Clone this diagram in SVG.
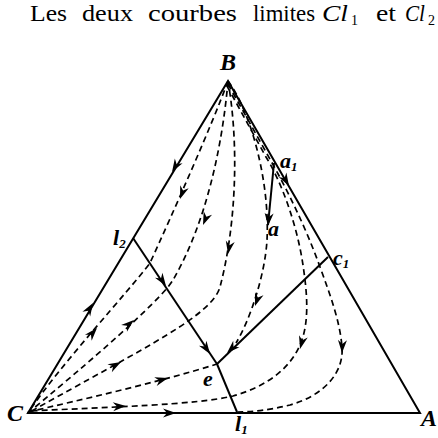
<svg xmlns="http://www.w3.org/2000/svg" xmlns:xlink="http://www.w3.org/1999/xlink" width="438" height="438" viewBox="0 0 438 438">
<style>
.solid{fill:none;stroke:#000;stroke-width:2;stroke-linejoin:miter}
.dash{fill:none;stroke:#000;stroke-width:1.7;stroke-dasharray:6 4}
.serif{font-family:Liberation Serif, Times New Roman, Tinos, DejaVu Serif, serif}
.t{font-size:24px;fill:#000}
</style>
<defs>
<path id="ah" d="M0,0 L-13,-4.5 L-9,0 L-13,4.5 Z" fill="#000"/>
</defs>
<rect width="438" height="438" fill="#fff"/>
<g id="title" class="serif">
<text class="t" x="30" y="21" textLength="37" lengthAdjust="spacingAndGlyphs">Les</text>
<text class="t" x="82" y="21" textLength="51" lengthAdjust="spacingAndGlyphs">deux</text>
<text class="t" x="148" y="21" textLength="89" lengthAdjust="spacingAndGlyphs">courbes</text>
<text class="t" x="253" y="21" textLength="62" lengthAdjust="spacingAndGlyphs">limites</text>
<text class="t" x="322" y="21" font-style="italic" textLength="26" lengthAdjust="spacingAndGlyphs">Cl</text>
<text x="351" y="25" font-size="14" fill="#000">1</text>
<text class="t" x="376" y="21" textLength="20" lengthAdjust="spacingAndGlyphs">et</text>
<text class="t" x="405" y="21" font-style="italic" textLength="20" lengthAdjust="spacingAndGlyphs">Cl</text>
<text x="428" y="25" font-size="14" fill="#000">2</text>
</g>
<g id="triangle">
<path class="solid" d="M228,81 L420,413 L28,413 Z"/>
</g>
<g id="connectors">
<path id="limit2" class="solid" d="M133,238 L217,364"/>
<path id="limit1" class="solid" d="M217,364 L237,412"/>
<path id="limit-e-c1" class="solid" d="M217,364 L328,257"/>
<path id="a1-a" class="solid" d="M274,163 L268,225"/>
<path id="L1" class="dash" d="M228,81 C212,125 172,215 150,263 C130,290 60,365 28,413"/>
<path id="L2" class="dash" d="M228,81 C222,150 205,225 173,280 C163,297 110,345 28,413"/>
<path id="L3" class="dash" d="M228,81 C240,150 235,230 220,287 C212,315 150,345 28,413"/>
<path id="C4" class="dash" d="M28,412 C80,400 160,382 217,364"/>
<path id="R1" class="dash" d="M228,81 C250,110 270,180 267,240 C265,275 250,320 236,343"/>
<path id="R2" class="dash" d="M227,86 L266,157 C282,183 297,225 303,265 C307,292 310,322 300,345 C290,368 268,386 233,396 C195,405 110,407 30,411"/>
<path id="R3" class="dash" d="M228,84 L271,161 C285,186 305,225 320,267 C331,297 340,322 342,347 C344,372 325,395 290,405 C270,410 252,412 237,412"/>
<g id="arrows">
<use xlink:href="#ah" transform="translate(172,172) rotate(121)"/>
<use xlink:href="#ah" transform="translate(93,303) rotate(-59)"/>
<use xlink:href="#ah" transform="translate(176,413)"/>
<use xlink:href="#ah" transform="translate(289,186) rotate(60)"/>
<use xlink:href="#ah" transform="translate(166,286) rotate(56)"/>
<use xlink:href="#ah" transform="translate(210,354) rotate(56)"/>
<use xlink:href="#ah" transform="translate(227,353) rotate(136)"/>
<use xlink:href="#ah" transform="translate(268,226) rotate(95)"/>
<use xlink:href="#ah" transform="translate(180,199) rotate(110)"/>
<use xlink:href="#ah" transform="translate(203,225) rotate(112)"/>
<use xlink:href="#ah" transform="translate(228,254) rotate(100)"/>
<use xlink:href="#ah" transform="translate(255,306) rotate(109)"/>
<use xlink:href="#ah" transform="translate(300,349) rotate(105)"/>
<use xlink:href="#ah" transform="translate(342,353) rotate(92)"/>
<use xlink:href="#ah" transform="translate(97,328) rotate(-48)"/>
<use xlink:href="#ah" transform="translate(134,320) rotate(-40)"/>
<use xlink:href="#ah" transform="translate(121,362) rotate(-29)"/>
<use xlink:href="#ah" transform="translate(168,378) rotate(-16)"/>
<use xlink:href="#ah" transform="translate(126,406) rotate(-3)"/>
</g>
</g>
<g class="serif" font-weight="bold" font-style="italic" fill="#000">
<g id="node-B"><text x="228" y="70" font-size="24" text-anchor="middle">B</text></g>
<g id="node-C"><text x="15" y="421" font-size="24" text-anchor="middle">C</text></g>
<g id="node-A"><text x="429" y="426" font-size="24" text-anchor="middle">A</text></g>
<g id="node-l2"><text x="113" y="245" font-size="22">l<tspan font-size="13" dy="3">2</tspan></text></g>
<g id="node-l1"><text x="235" y="431" font-size="22">l<tspan font-size="13" dy="3">1</tspan></text></g>
<g id="node-a1"><text x="280" y="168" font-size="22">a<tspan font-size="13" dy="3">1</tspan></text></g>
<g id="node-a"><text x="268" y="236" font-size="22">a</text></g>
<g id="node-c1"><text x="333" y="265" font-size="22">c<tspan font-size="13" dy="3">1</tspan></text></g>
<g id="node-e"><text x="203" y="386" font-size="22">e</text></g>
</g>
</svg>
